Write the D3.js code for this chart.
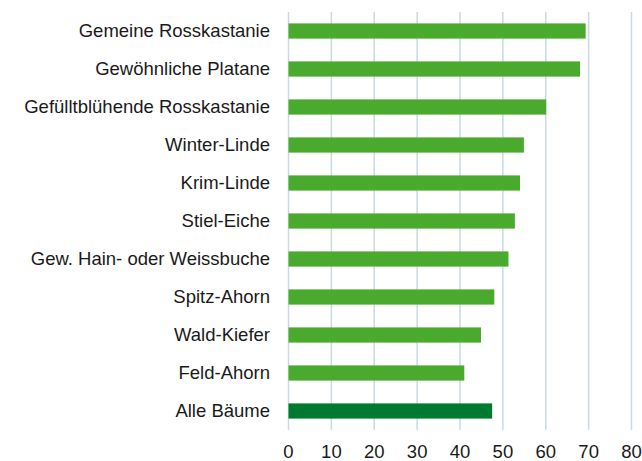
<!DOCTYPE html>
<html>
<head>
<meta charset="utf-8">
<script src="https://cdn.jsdelivr.net/npm/d3@7"></script>
<style>
  body { margin: 0; background: #fff; }
  svg { display: block; }
  svg text { font-family: "Liberation Sans", Arial, sans-serif; }
</style>
</head>
<body>
<svg id="chart" width="642" height="461"></svg>
<script>
const categories = [
  "Gemeine Rosskastanie",
  "Gewöhnliche Platane",
  "Gefülltblühende Rosskastanie",
  "Winter-Linde",
  "Krim-Linde",
  "Stiel-Eiche",
  "Gew. Hain- oder Weissbuche",
  "Spitz-Ahorn",
  "Wald-Kiefer",
  "Feld-Ahorn",
  "Alle Bäume"
];
const values = [69.3, 68.0, 60.1, 54.9, 54.0, 52.8, 51.3, 48.0, 44.9, 41.0, 47.5];
const highlight = ["Alle Bäume"];
const tickValues = [0, 10, 20, 30, 40, 50, 60, 70, 80];

const svg = d3.select("#chart");
const margin = { left: 288, right: 11, top: 12, bottom: 31 };
const W = 642, H = 461;

const x = d3.scaleLinear().domain([0, 80]).range([margin.left, W - margin.right]);
const y = d3.scaleBand().domain(categories).range([margin.top, H - margin.bottom]).paddingInner(0.6).paddingOuter(0.3);

// gridlines
svg.append("g")
  .selectAll("line")
  .data(tickValues)
  .join("line")
  .attr("x1", d => x(d) + 0.5)
  .attr("x2", d => x(d) + 0.5)
  .attr("y1", margin.top)
  .attr("y2", H - margin.bottom)
  .attr("stroke", "#c9dae2")
  .attr("stroke-width", 1.5);

// bars
svg.append("g")
  .selectAll("rect")
  .data(categories)
  .join("rect")
  .attr("x", x(0) + 0.5)
  .attr("y", d => y(d))
  .attr("width", (d, i) => x(values[i]) - x(0))
  .attr("height", y.bandwidth())
  .attr("fill", d => highlight.includes(d) ? "#007a30" : "#49aa2d");

// x axis
const xAxis = d3.axisBottom(x).tickValues(tickValues).tickSize(0).tickPadding(0);
svg.append("g")
  .attr("transform", `translate(0,${H - margin.bottom})`)
  .call(xAxis)
  .call(g => g.attr("font-family", null).attr("font-size", null))
  .call(g => g.select(".domain").remove())
  .call(g => g.selectAll("text")
    .attr("dy", null)
    .attr("y", 28)
    .style("font-size", "18.5px")
    .style("font-family", "'Liberation Sans', Arial, sans-serif")
    .attr("fill", "#1a1a1a"));

// y axis
const yAxis = d3.axisLeft(y).tickSize(0).tickPadding(18);
svg.append("g")
  .attr("transform", `translate(${margin.left},0)`)
  .call(yAxis)
  .call(g => g.attr("font-family", null).attr("font-size", null))
  .call(g => g.select(".domain").remove())
  .call(g => g.selectAll("text")
    .style("font-size", "18.5px")
    .style("font-family", "'Liberation Sans', Arial, sans-serif")
    .attr("fill", "#1a1a1a"));
</script>
</body>
</html>
